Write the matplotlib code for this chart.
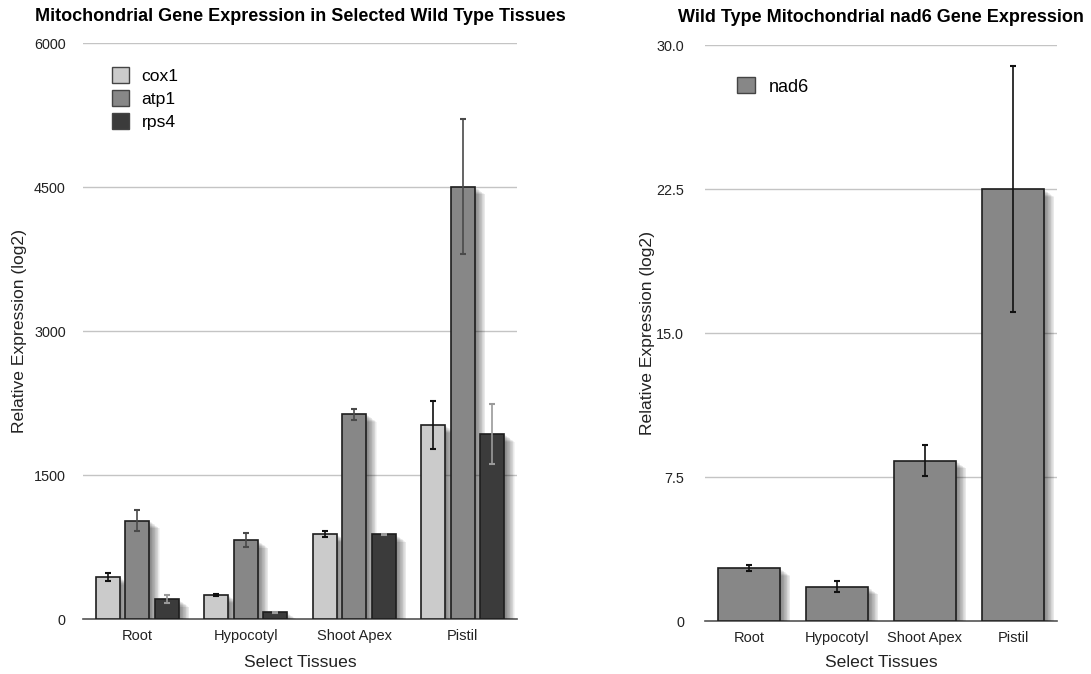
import numpy as np
import matplotlib
matplotlib.use("Agg")
import matplotlib.pyplot as plt
import matplotlib.patheffects as pe
from matplotlib.patches import Patch

plt.rcParams["font.family"] = ["Liberation Sans", "DejaVu Sans"]

tissues = ["Root", "Hypocotyl", "Shoot Apex", "Pistil"]

# left panel: three genes, mean and error per tissue
genes = ["cox1", "atp1", "rps4"]
cox1 = [440, 250, 885, 2020]
cox1_err = [42, 10, 28, 253]
atp1 = [1025, 820, 2135, 4505]
atp1_err = [108, 72, 57, 700]
rps4 = [205, 70, 882, 1927]
rps4_err = [42, 5, 5, 316]

left_ticks = [0, 1500, 3000, 4500, 6000]
left_tick_labels = ["0", "1500", "3000", "4500", "6000"]

# right panel: nad6 only
nad6 = [2.76, 1.79, 8.35, 22.5]
nad6_err = [0.15, 0.3, 0.8, 6.4]

right_ticks = [0, 7.5, 15.0, 22.5, 30.0]
right_tick_labels = ["0", "7.5", "15.0", "22.5", "30.0"]

fill_colors = ["#cbcbcb", "#878787", "#3b3b3b"]
err_colors = ["#111111", "#4a4a4a", "#9a9a9a"]


def soft_shadow():
    # many faint offset copies fake a blurred drop shadow
    fx = []
    for k in range(1, 15):
        fx.append(pe.SimplePatchShadow(offset=(k * 0.55, -k * 0.4),
                                       shadow_rgbFace="black", alpha=0.045))
    fx.append(pe.Normal())
    return fx


def style_axes(ax, ticks, labels, ymax, ypad):
    ax.set_xlim(0, 4)
    ax.set_ylim(0, ymax)
    ax.set_yticks(ticks)
    ax.set_yticklabels(labels, fontsize=10.4, color="#222222")
    ax.set_xticks(np.arange(4) + 0.5)
    ax.set_xticklabels(tissues, fontsize=10.5, color="#222222")
    ax.tick_params(length=0)
    ax.tick_params(axis="y", pad=ypad)
    ax.tick_params(axis="x", pad=7)
    for s in ["top", "right", "left"]:
        ax.spines[s].set_visible(False)
    ax.spines["bottom"].set_color("#555555")
    ax.spines["bottom"].set_linewidth(1.2)
    ax.yaxis.grid(True, color="#c4c4c4", linewidth=1)
    ax.set_axisbelow(True)
    ax.set_xlabel("Select Tissues", fontsize=12.6, color="#222222")
    ax.set_ylabel("Relative Expression (log2)", fontsize=12.6, color="#222222")


fig = plt.figure(figsize=(10.91, 6.74), dpi=100)
ax1 = fig.add_axes([0.0761, 0.0816, 0.3978, 0.8546])
ax2 = fig.add_axes([0.6462, 0.0786, 0.3226, 0.8546])

# grouped bars
x = np.arange(len(tissues)) + 0.5
width = 0.22
step = 0.272
series = [(cox1, cox1_err), (atp1, atp1_err), (rps4, rps4_err)]
for i, (vals, errs) in enumerate(series):
    pos = x + (i - 1) * step
    bars = ax1.bar(pos, vals, width, color=fill_colors[i],
                   edgecolor="#1e1e1e", linewidth=1.2, zorder=3)
    for b in bars:
        b.set_path_effects(soft_shadow())
    ax1.errorbar(pos, vals, yerr=errs, fmt="none", ecolor=err_colors[i],
                 elinewidth=1.2, capsize=2.5, capthick=1.5, zorder=4)

style_axes(ax1, left_ticks, left_tick_labels, 6000, 12.5)
ax1.xaxis.set_label_coords(0.5, -0.062)
ax1.yaxis.set_label_coords(-0.130, 0.5)

handles = [Patch(facecolor=fill_colors[i], edgecolor="#444444", linewidth=1,
                 label=genes[i]) for i in range(3)]
ax1.legend(handles=handles, loc="upper left", bbox_to_anchor=(0.066, 0.958),
           frameon=False, fontsize=12.6, handlelength=1.0, handleheight=1.0,
           handletextpad=0.7, labelspacing=0.35, borderpad=0, borderaxespad=0)

# nad6 bars
bars = ax2.bar(x, nad6, 0.70, color="#878787", edgecolor="#1e1e1e",
               linewidth=1.2, zorder=3)
for b in bars:
    b.set_path_effects(soft_shadow())
ax2.errorbar(x, nad6, yerr=nad6_err, fmt="none", ecolor="#111111",
             elinewidth=1.2, capsize=2.5, capthick=1.5, zorder=4)

style_axes(ax2, right_ticks, right_tick_labels, 30, 15)
ax2.xaxis.set_label_coords(0.5, -0.059)
ax2.yaxis.set_label_coords(-0.142, 0.5)
ax2.legend(handles=[Patch(facecolor="#878787", edgecolor="#444444",
                          linewidth=1, label="nad6")],
           loc="upper left", bbox_to_anchor=(0.091, 0.944), frameon=False,
           fontsize=13, handlelength=1.0, handleheight=1.0,
           handletextpad=0.75, borderpad=0, borderaxespad=0)

fig.text(0.275, 0.976, "Mitochondrial Gene Expression in Selected Wild Type Tissues",
         ha="center", va="center", fontsize=13, fontweight="bold")
fig.text(0.8075, 0.974, "Wild Type Mitochondrial nad6 Gene Expression",
         ha="center", va="center", fontsize=13, fontweight="bold")

fig.savefig("out.png", dpi=100)
